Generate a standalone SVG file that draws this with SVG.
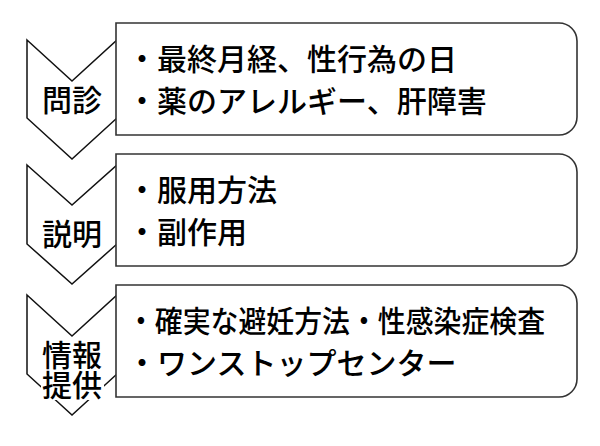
<svg xmlns="http://www.w3.org/2000/svg" width="600" height="446" viewBox="0 0 600 446">
<style>
.chev{fill:#fff;stroke:#111;stroke-width:1.5;stroke-linejoin:miter}
.box{fill:#fff;stroke:#333;stroke-width:1.6}
.bg{fill:#fff}
.lab{font-family:"Noto Sans CJK JP","Noto Sans CJK SC",sans-serif;font-size:30px;font-weight:500;fill:#000;text-anchor:middle}
.txt{font-family:"Noto Sans CJK JP","Noto Sans CJK SC",sans-serif;font-size:30px;font-weight:500;fill:#000}
</style>
<rect width="600" height="446" fill="#fff"/>
<g id="step1">
<polygon class="chev" points="27,40 72,81 117,40 117,118 72,159 27,118"/>
<path class="box" d="M116,23 H559 A18,18 0 0 1 577,41 V117 A18,18 0 0 1 559,135 H116 Z"/>
<text class="lab" x="72" y="111">問診</text>
<text class="txt" x="127" y="70">・最終月経、性行為の日</text>
<text class="txt" x="127" y="112">・薬のアレルギー、肝障害</text>
</g>
<g id="step2">
<polygon class="chev" points="27,165 72,205 117,165 117,244 72,284 27,244"/>
<path class="box" d="M116,154 H559 A18,18 0 0 1 577,172 V248 A18,18 0 0 1 559,266 H116 Z"/>
<text class="lab" x="72" y="245">説明</text>
<text class="txt" x="127" y="201">・服用方法</text>
<text class="txt" x="127" y="243">・副作用</text>
</g>
<g id="step3">
<polygon class="chev" points="27,295 72,336 117,295 117,374 72,415 27,374"/>
<path class="box" d="M116,285 H559 A18,18 0 0 1 577,303 V379 A18,18 0 0 1 559,397 H116 Z"/>
<rect class="bg" x="41" y="337" width="63" height="63"/>
<text class="lab"><tspan x="72" y="366">情報</tspan><tspan x="72" y="396">提供</tspan></text>
<text class="txt" x="127" y="332" textLength="418" lengthAdjust="spacingAndGlyphs">・確実な避妊方法・性感染症検査</text>
<text class="txt" x="127" y="374">・ワンストップセンター</text>
</g>
<g id="connectors"/>
</svg>
